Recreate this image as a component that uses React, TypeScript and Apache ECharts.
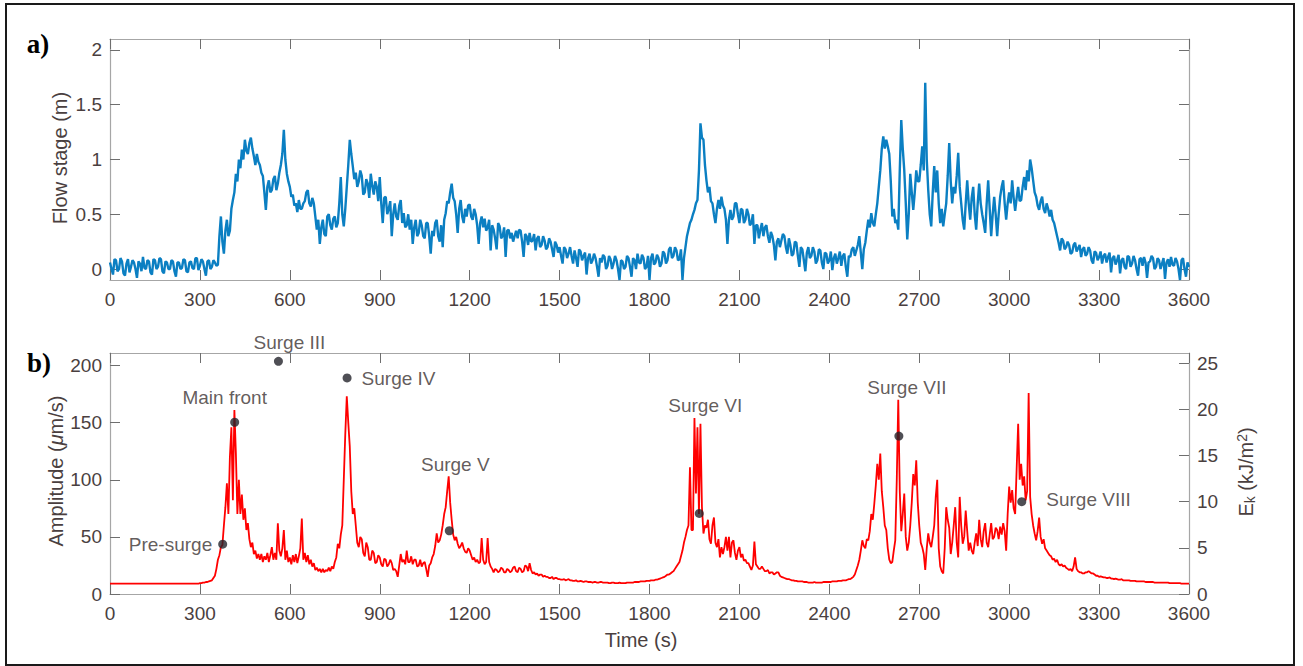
import React, { useEffect, useRef } from "react";
import * as echarts from "echarts";

// ---------- data ----------
const xMax = 3600;
const flowTicks = [0, 0.5, 1, 1.5, 2];
const ampTicks = [0, 50, 100, 150, 200];
const ekTicks = [0, 5, 10, 15, 20, 25];

// Flow stage (m), one value every 5 s from 0 to 3600 s
const flowStage = [
  0.06, 0.0, -0.05, 0.09, 0.08, -0.02, 0.0, 0.1, 0.07, -0.04, -0.06, 0.05, 0.09, -0.03, 0.02, 0.08, 0.06, 0.0, -0.08, 0.07,
  0.05, -0.02, 0.11, 0.01, 0.0, 0.08, 0.07, -0.03, -0.05, 0.09, 0.08, 0.0, 0.02, 0.1, 0.09, -0.02, -0.04, 0.07, 0.06, 0.0,
  0.0, 0.08, 0.07, -0.02, -0.07, 0.06, 0.06, 0.0, 0.01, 0.09, 0.08, -0.02, -0.03, 0.06, 0.07, 0.01, 0.0, 0.1, 0.1, -0.01,
  0.03, 0.09, 0.07, 0.0, -0.06, 0.07, 0.08, 0.0, 0.02, 0.08, 0.06, 0.03, 0.04, 0.3, 0.48, 0.25, 0.14, 0.35, 0.45, 0.3,
  0.35, 0.55, 0.63, 0.7, 0.87, 0.8, 1.0, 0.92, 1.09, 1.0, 1.18, 1.08, 1.05, 1.15, 1.2, 1.1, 1.03, 0.95, 1.05, 0.98,
  0.95, 0.88, 0.85, 0.7, 0.54, 0.75, 0.81, 0.7, 0.72, 0.82, 0.85, 0.72, 0.78, 0.88, 0.95, 1.05, 1.27, 1.0, 0.87, 0.8,
  0.75, 0.66, 0.68, 0.58, 0.6, 0.52, 0.63, 0.55, 0.55, 0.6, 0.62, 0.7, 0.72, 0.6, 0.57, 0.65, 0.6, 0.48, 0.36, 0.45,
  0.23, 0.38, 0.45, 0.32, 0.3, 0.48, 0.5, 0.4, 0.36, 0.46, 0.48, 0.38, 0.42, 0.6, 0.84, 0.5, 0.39, 0.55, 0.75, 0.95,
  1.18, 1.05, 0.94, 0.82, 0.88, 0.75, 0.8, 0.9, 0.85, 0.68, 0.7, 0.82, 0.78, 0.65, 0.87, 0.76, 0.68, 0.8, 0.75, 0.62,
  0.84, 0.6, 0.42, 0.65, 0.66, 0.5, 0.55, 0.62, 0.3, 0.5, 0.6, 0.48, 0.45, 0.58, 0.63, 0.42, 0.51, 0.38, 0.4, 0.5,
  0.36, 0.45, 0.23, 0.38, 0.45, 0.3, 0.33, 0.45, 0.4, 0.3, 0.28, 0.42, 0.42, 0.3, 0.14, 0.35, 0.3, 0.42, 0.45, 0.3,
  0.25, 0.4, 0.2, 0.45, 0.51, 0.62, 0.6, 0.7, 0.78, 0.65, 0.62, 0.5, 0.33, 0.55, 0.63, 0.48, 0.42, 0.55, 0.48, 0.58,
  0.59, 0.48, 0.45, 0.55, 0.5, 0.4, 0.23, 0.42, 0.48, 0.38, 0.46, 0.35, 0.38, 0.45, 0.17, 0.4, 0.36, 0.28, 0.18, 0.42,
  0.39, 0.28, 0.3, 0.38, 0.11, 0.35, 0.36, 0.28, 0.33, 0.25, 0.3, 0.35, 0.28, 0.36, 0.35, 0.25, 0.11, 0.32, 0.3, 0.22,
  0.33, 0.25, 0.26, 0.32, 0.17, 0.28, 0.3, 0.2, 0.22, 0.3, 0.26, 0.18, 0.2, 0.28, 0.25, 0.18, 0.11, 0.25, 0.22, 0.15,
  0.2, 0.12, 0.05, 0.2, 0.18, 0.1, 0.14, 0.2, 0.12, 0.05, 0.17, 0.1, 0.02, 0.18, 0.16, 0.08, 0.12, 0.15, -0.05, 0.1,
  0.14, 0.05, 0.08, 0.14, 0.1, 0.02, -0.07, 0.1, 0.06, 0.13, 0.11, 0.0, 0.03, 0.12, 0.09, 0.0, 0.05, 0.12, 0.08, 0.0,
  -0.1, 0.08, 0.07, 0.0, 0.02, 0.12, 0.1, 0.02, -0.07, 0.1, 0.08, 0.0, 0.14, 0.06, 0.05, 0.13, 0.1, 0.0, 0.02, 0.12,
  -0.1, 0.1, 0.14, 0.04, 0.06, 0.13, 0.1, 0.02, 0.05, 0.16, 0.14, 0.05, 0.08, 0.18, 0.2, 0.1, 0.12, 0.2, 0.17, 0.08,
  0.09, 0.18, -0.1, 0.1, 0.2, 0.3, 0.36, 0.42, 0.45, 0.5, 0.54, 0.6, 0.63, 0.9, 1.33, 1.2, 1.18, 0.95, 0.81, 0.7,
  0.75, 0.62, 0.6, 0.5, 0.42, 0.55, 0.63, 0.55, 0.66, 0.58, 0.55, 0.45, 0.23, 0.45, 0.54, 0.45, 0.48, 0.6, 0.6, 0.5,
  0.42, 0.55, 0.54, 0.42, 0.45, 0.55, 0.5, 0.4, 0.42, 0.5, 0.23, 0.4, 0.4, 0.28, 0.36, 0.42, 0.3, 0.38, 0.4, 0.3,
  0.24, 0.34, 0.3, 0.22, 0.08, 0.25, 0.28, 0.2, 0.26, 0.32, 0.3, 0.2, 0.14, 0.28, 0.22, 0.12, 0.14, 0.25, 0.24, 0.12,
  0.02, 0.2, 0.18, 0.08, -0.02, 0.15, 0.2, 0.1, 0.12, 0.2, 0.16, 0.05, 0.08, 0.18, 0.17, 0.06, 0.0, 0.15, 0.14, 0.05,
  0.08, 0.16, -0.01, 0.1, 0.14, 0.05, 0.1, 0.16, 0.03, 0.12, 0.14, 0.02, -0.07, 0.12, 0.11, 0.18, 0.2, 0.12, 0.17, 0.22,
  0.3, 0.15, 0.0, 0.18, 0.24, 0.35, 0.45, 0.38, 0.51, 0.42, 0.39, 0.5, 0.6, 0.75, 0.9, 1.1, 1.21, 1.1, 1.18, 1.12,
  1.05, 0.8, 0.48, 0.55, 0.42, 0.45, 0.36, 0.9, 1.36, 1.1, 0.9, 0.6, 0.27, 0.5, 0.87, 0.7, 0.54, 0.7, 0.9, 0.8,
  0.8, 0.95, 1.12, 0.9, 1.7, 1.0, 0.72, 0.5, 0.39, 0.7, 0.94, 0.7, 0.9, 0.6, 0.42, 0.55, 0.39, 0.5, 0.6, 0.85,
  1.15, 0.8, 0.6, 0.75, 0.69, 0.85, 1.06, 0.75, 0.6, 0.45, 0.36, 0.6, 0.81, 0.6, 0.45, 0.65, 0.75, 0.5, 0.36, 0.6,
  0.78, 0.6, 0.5, 0.42, 0.33, 0.6, 0.81, 0.55, 0.3, 0.5, 0.66, 0.5, 0.3, 0.5, 0.66, 0.75, 0.81, 0.6, 0.45, 0.6,
  0.7, 0.6, 0.81, 0.65, 0.53, 0.65, 0.75, 0.62, 0.63, 0.75, 0.84, 0.72, 0.9, 0.8, 1.0, 0.92, 0.81, 0.7, 0.66, 0.58,
  0.54, 0.62, 0.66, 0.55, 0.51, 0.6, 0.55, 0.48, 0.54, 0.45, 0.42, 0.36, 0.3, 0.24, 0.17, 0.28, 0.26, 0.18, 0.2, 0.25,
  0.22, 0.14, 0.15, 0.22, 0.24, 0.16, 0.19, 0.22, 0.11, 0.18, 0.2, 0.12, 0.14, 0.2, 0.17, 0.08, 0.05, 0.16, 0.15, 0.08,
  0.11, 0.16, 0.05, 0.12, 0.14, 0.06, 0.11, 0.15, -0.03, 0.1, 0.12, 0.04, 0.08, 0.13, -0.04, 0.08, 0.1, 0.02, 0.0, 0.12,
  0.11, 0.02, 0.05, 0.12, 0.08, 0.0, -0.06, 0.09, 0.1, 0.03, 0.11, 0.06, -0.08, 0.06, 0.07, 0.12, 0.1, 0.0, 0.02, 0.1,
  0.08, 0.0, 0.05, 0.1, -0.09, 0.06, 0.09, 0.02, 0.11, 0.04, 0.03, 0.1, 0.07, 0.0, -0.1, 0.08, 0.1, 0.0, -0.07, 0.06,
  0.02,
];

// Seismic amplitude (µm/s), one value every 5 s from 0 to 3600 s
const amplitude = [
  9, 9, 9, 9, 9, 9, 9, 9, 9, 9, 9, 9, 9, 9, 9, 9, 9, 9, 9, 9,
  9, 9, 9, 9, 9, 9, 9, 9, 9, 9, 9, 9, 9, 9, 9, 9, 9, 9, 9, 9,
  9, 9, 9, 9, 9, 9, 9, 9, 9, 9, 9, 9, 9, 9, 9, 9, 9, 9, 9, 9,
  9.5, 9.5, 10, 10, 10.5, 10.5, 11, 11.5, 12, 14, 16, 22, 30, 34, 41, 43, 60, 76, 97, 70,
  120, 146, 82, 161, 123, 70, 100, 70, 87, 65, 75, 56, 62, 48, 41, 45, 35, 38, 31, 35,
  30, 35, 28, 33, 30, 36, 28, 34, 41, 30, 36, 30, 62, 38, 33, 40, 56, 30, 38, 28,
  32, 26, 34, 28, 35, 27, 33, 40, 66, 30, 36, 28, 34, 26, 30, 24, 27, 21, 23, 20,
  22, 19, 22, 19, 21, 20, 23, 20, 24, 22, 28, 32, 44, 40, 52, 60, 100, 140, 173, 150,
  129, 90, 70, 75, 60, 45, 41, 50, 48, 36, 33, 45, 41, 30, 30, 38, 36, 27, 28, 34,
  32, 26, 24, 31, 30, 24, 26, 30, 27, 21, 22, 20, 15, 25, 35, 28, 30, 26, 38, 28,
  28, 33, 26, 30, 30, 24, 25, 30, 24, 27, 28, 22, 15, 25, 27, 32, 35, 42, 53, 45,
  47, 52, 60, 70, 76, 90, 103, 80, 65, 52, 47, 50, 44, 40, 42, 45, 40, 37, 36, 40,
  38, 34, 30, 32, 28, 30, 27, 28, 49, 30, 26, 28, 49, 28, 24, 22, 19, 22, 21, 19,
  20, 23, 22, 19, 19, 22, 21, 19, 20, 23, 24, 20, 19, 23, 22, 19, 20, 25, 24, 20,
  27, 21, 18, 19, 17, 18, 16, 17, 17, 15, 16, 15, 15, 14, 14, 15, 13, 14, 14, 13,
  13, 12.5, 12.5, 13, 12, 12.5, 13, 12, 12, 11.5, 11.5, 12, 11, 11, 11.5, 11, 10.5, 11, 11, 10.5,
  10.5, 10.5, 10, 10.5, 10.5, 10, 10, 10.5, 10.5, 10, 10, 10, 10, 9.5, 9.5, 10, 10, 9.5, 9.5, 9.5,
  10, 9.5, 9.5, 9.5, 9.5, 10, 10, 10, 10, 10, 10.5, 10.5, 10.5, 10.5, 11, 11, 11, 11, 11.5, 11.5,
  11.5, 12, 12, 12, 12.5, 12.5, 13, 13.5, 14, 14.5, 15, 16, 17, 17, 18, 19, 20, 22, 24, 26,
  28, 33, 38, 45, 50, 56, 60, 111, 56, 56, 154, 88, 146, 70, 149, 76, 53, 60, 58, 65,
  48, 44, 60, 67, 45, 41, 48, 32, 41, 35, 41, 50, 38, 50, 32, 45, 47, 36, 30, 38,
  41, 32, 35, 29, 30, 27, 27, 24, 21, 25, 46, 26, 24, 22, 22, 24, 22, 20, 20, 21,
  18, 19, 19, 17, 18, 19, 19, 16, 15, 14.5, 14, 13.5, 13, 13, 12.5, 12, 12, 11.5, 11.5, 11,
  11, 11, 11, 10.5, 10.5, 10.5, 10, 10, 10, 10, 10.5, 10, 10, 10, 10, 10, 10.5, 10.5, 10.5, 10.5,
  10.5, 10.5, 11, 11, 11, 11, 11.5, 11.5, 11.5, 12, 12, 12, 12.5, 13, 13, 14, 15, 17, 21, 25,
  30, 38, 47, 42, 40, 48, 47, 55, 70, 65, 79, 95, 114, 100, 123, 90, 76, 60, 56, 40,
  30, 27, 28, 38, 47, 100, 170, 90, 55, 70, 88, 50, 38, 45, 60, 80, 105, 95, 117, 80,
  60, 45, 41, 35, 21, 40, 53, 45, 41, 50, 60, 85, 100, 40, 24, 20, 18, 40, 76, 65,
  58, 35, 45, 60, 76, 45, 32, 85, 60, 44, 50, 73, 55, 38, 45, 38, 35, 45, 53, 42,
  65, 48, 41, 55, 62, 45, 41, 52, 62, 48, 50, 58, 56, 48, 59, 52, 62, 55, 38, 70,
  94, 80, 91, 75, 70, 110, 149, 100, 114, 95, 103, 82, 90, 176, 85, 70, 60, 53, 47, 55,
  67, 50, 44, 48, 40, 38, 36, 34, 33, 30, 31, 28, 30, 26, 25, 26, 24, 25, 23, 22,
  21, 22, 20, 24, 32, 22, 20, 19, 19, 18, 18, 19, 19, 20, 19, 18, 18, 17, 16, 16,
  15, 15.5, 15, 14.5, 14.5, 14, 14, 14.5, 13.5, 13.5, 13, 13.5, 13, 12.5, 12.5, 13, 12, 12, 12, 12,
  12, 11.5, 11.5, 11.5, 11.5, 11, 11, 11, 11, 11, 11, 10.5, 10.5, 10.5, 10.5, 10.5, 10.5, 10, 10, 10,
  10, 10, 10, 10, 10, 10, 10, 9.5, 9.5, 9.5, 9.5, 9.5, 9.5, 9.5, 9.5, 9, 9, 9, 9, 9,
  9,
];

// Surge events: kinetic energy E_k (kJ/m^2)
const eventNames = ["Pre-surge", "Main front", "Surge III", "Surge IV", "Surge V", "Surge VI", "Surge VII", "Surge VIII"];
const eventTimes = [376, 416, 562, 791, 1132, 1966, 2632, 3042];
const eventEk = [5.4, 18.6, 25.2, 23.4, 6.85, 8.73, 17.1, 10.0];

// ---------- styles ----------
const FONT = "'Liberation Sans', Arial, Helvetica, sans-serif";
const LABEL_COLOR = "#4a3f3f";
const TEXT_COLOR = "#3a3232";
const AXIS_LINE = "#a6a6a6";
const TICK_COLOR = "#6e6e6e";

const labelPlacements: any[] = [
  { position: "left", distance: 6, offset: [0, 0] },
  { position: "top", distance: 5, offset: [-10, -6] },
  { position: "top", distance: 5, offset: [11, 0] },
  { position: "right", distance: 10, offset: [0, 1] },
  { position: "top", distance: 5, offset: [6, -47] },
  { position: "top", distance: 5, offset: [6, -89] },
  { position: "top", distance: 5, offset: [8, -30] },
  { position: "right", distance: 20, offset: [0, -2] },
];

function xAxisDef(gridIndex: number, position: "top" | "bottom") {
  const showLabel = position === "bottom";
  return {
    type: "value",
    gridIndex,
    position,
    min: 0,
    max: xMax,
    interval: 300,
    axisLine: { show: true, onZero: false, lineStyle: { color: AXIS_LINE, width: 1.2 } },
    axisTick: { show: true, inside: true, length: 10, lineStyle: { color: TICK_COLOR, width: 1 } },
    axisLabel: {
      show: showLabel,
      color: LABEL_COLOR,
      fontSize: 19,
      fontFamily: FONT,
      margin: 10,
      formatter: (v: number) => String(v),
    },
    splitLine: { show: false },
  };
}

function yAxisDef(
  gridIndex: number,
  position: "left" | "right",
  min: number,
  max: number,
  ticks: number[],
  showLabel: boolean
) {
  return {
    type: "value",
    gridIndex,
    position,
    min,
    max,
    axisLine: { show: true, onZero: false, lineStyle: { color: AXIS_LINE, width: 1.2 } },
    axisTick: { show: true, inside: true, length: 10, customValues: ticks, lineStyle: { color: TICK_COLOR, width: 1 } },
    axisLabel: {
      show: showLabel,
      customValues: ticks,
      color: LABEL_COLOR,
      fontSize: 19,
      fontFamily: FONT,
      margin: 8,
      formatter: (v: number) => String(v),
    },
    splitLine: { show: false },
  };
}

export default function App() {
  const ref = useRef<HTMLDivElement>(null);

  useEffect(() => {
    document.body.style.margin = "0";
    if (!ref.current) return;
    const chart = echarts.init(ref.current, null, { renderer: "svg" });

    const flowStep = xMax / (flowStage.length - 1);
    const ampStep = xMax / (amplitude.length - 1);
    const flowData = flowStage.map((v, i) => [i * flowStep, v]);
    const ampData = amplitude.map((v, i) => [i * ampStep, v]);
    const eventData = eventNames.map((name, i) => ({
      name,
      value: [eventTimes[i], eventEk[i]],
      label: {
        show: true,
        formatter: name,
        position: labelPlacements[i].position,
        distance: labelPlacements[i].distance,
        offset: labelPlacements[i].offset,
      },
    }));

    const titleStyle = { fill: LABEL_COLOR, fontSize: 20, fontFamily: FONT };

    chart.setOption({
      animation: false,
      backgroundColor: "#ffffff",
      textStyle: { fontFamily: FONT },
      grid: [
        { left: 110, right: 114, top: 39, height: 241 },
        { left: 110, right: 114, top: 353, height: 241 },
      ],
      xAxis: [
        xAxisDef(0, "bottom"),
        xAxisDef(0, "top"),
        xAxisDef(1, "bottom"),
        xAxisDef(1, "top"),
      ],
      yAxis: [
        yAxisDef(0, "left", -0.1, 2.1, flowTicks, true),
        yAxisDef(0, "right", -0.1, 2.1, flowTicks, false),
        yAxisDef(1, "left", 0, 211, ampTicks, true),
        yAxisDef(1, "right", 0, 26.1, ekTicks, true),
      ],
      series: [
        {
          type: "line",
          xAxisIndex: 0,
          yAxisIndex: 0,
          data: flowData,
          showSymbol: false,
          lineStyle: { color: "#0b7fc2", width: 2.4 },
          itemStyle: { color: "#0b7fc2" },
          clip: true,
        },
        {
          type: "line",
          xAxisIndex: 2,
          yAxisIndex: 2,
          data: ampData,
          showSymbol: false,
          lineStyle: { color: "#ff0000", width: 1.8 },
          itemStyle: { color: "#ff0000" },
          clip: true,
        },
        {
          type: "scatter",
          xAxisIndex: 2,
          yAxisIndex: 3,
          data: eventData,
          symbolSize: 9,
          itemStyle: { color: "#23232b" },
          label: { color: TEXT_COLOR, fontSize: 19, fontFamily: FONT },
          z: 5,
          clip: false,
        },
      ],
      graphic: [
        {
          type: "rect",
          shape: { x: 6, y: 4, width: 1288, height: 661 },
          style: { fill: "none", stroke: "#1a1a1a", lineWidth: 2 },
          silent: true,
        },
        {
          type: "text",
          x: 38,
          y: 44,
          style: {
            text: "a)",
            fill: "#000",
            font: "bold 27px 'Liberation Serif', 'Times New Roman', serif",
            align: "center",
            verticalAlign: "middle",
          },
        },
        {
          type: "text",
          x: 39,
          y: 363,
          style: {
            text: "b)",
            fill: "#000",
            font: "bold 27px 'Liberation Serif', 'Times New Roman', serif",
            align: "center",
            verticalAlign: "middle",
          },
        },
        {
          type: "text",
          x: 60,
          y: 158,
          rotation: Math.PI / 2,
          style: { text: "Flow stage (m)", ...titleStyle, align: "center", verticalAlign: "middle" },
        },
        {
          type: "text",
          x: 56,
          y: 471,
          rotation: Math.PI / 2,
          style: {
            text: "{n|Amplitude (}{mu|μ}{n|m/s)}",
            align: "center",
            verticalAlign: "middle",
            rich: {
              n: { ...titleStyle },
              mu: { ...titleStyle, fontStyle: "italic" },
            },
          },
        },
        {
          type: "text",
          x: 641,
          y: 640,
          style: { text: "Time (s)", ...titleStyle, align: "center", verticalAlign: "middle" },
        },
        {
          type: "text",
          x: 1246,
          y: 472,
          rotation: Math.PI / 2,
          style: {
            text: "{n|E}{s|k}{n| (kJ/m}{p|2}{n|)}",
            align: "center",
            verticalAlign: "middle",
            rich: {
              n: { ...titleStyle, lineHeight: 22 },
              s: { ...titleStyle, fontSize: 14, lineHeight: 10, verticalAlign: "bottom" },
              p: { ...titleStyle, fontSize: 14, lineHeight: 12, verticalAlign: "top" },
            },
          },
        },
      ],
    });

    return () => chart.dispose();
  }, []);

  return <div ref={ref} style={{ width: 1303, height: 666 }} />;
}
